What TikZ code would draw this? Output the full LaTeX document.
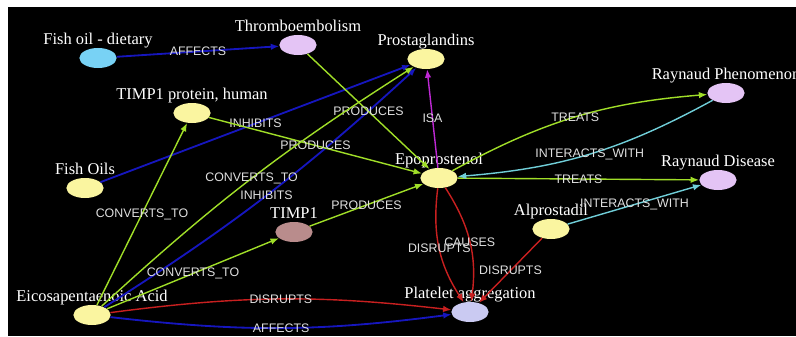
\documentclass[tikz,border=0pt]{standalone}
\usepackage{fontspec}
\setmainfont{Liberation Serif}
\newfontfamily\relfamily{Liberation Sans}
\usetikzlibrary{shapes.geometric, arrows.meta}

\definecolor{eBlue}{RGB}{22,22,190}
\definecolor{eGreen}{RGB}{160,222,40}
\definecolor{eRed}{RGB}{200,32,32}
\definecolor{eMag}{RGB}{190,40,212}
\definecolor{eCyan}{RGB}{112,206,216}
\definecolor{nYellow}{RGB}{250,245,160}
\definecolor{nViolet}{RGB}{228,196,245}
\definecolor{nSky}{RGB}{120,210,245}
\definecolor{nRose}{RGB}{185,140,140}
\definecolor{nLav}{RGB}{202,202,242}

\newcommand{\nodefont}{\fontsize{11.7}{13}\selectfont}
\newcommand{\relfont}{\relfamily\fontsize{8.8}{10}\selectfont}

\tikzset{
	ent/.style={ellipse, minimum width=0.93cm, minimum height=0.5cm, inner sep=0pt, label distance=1.6pt},
	lbl/.style={text=white, font=\nodefont, inner sep=0pt, text depth=0.22em},
	rel/.style={-{Latex[length=6pt,width=4.6pt]}, line width=1pt},
	rtxt/.style={font=\relfont, text=white!88!black, inner sep=1pt, midway}
}

\begin{document}
\begin{tikzpicture}[x=0.025cm, y=-0.025cm]
	%frame
	\fill[white] (0,0) rectangle (796,336);
	\fill[black] (8,7) rectangle (796,336);
	\useasboundingbox (0,0) rectangle (796,336);
	
	%top row - nodes
	\node[ent, fill=nSky,    label={[lbl]above:Fish oil - dietary}] (fod)   at (98,58)  {};
	\node[ent, fill=nViolet, label={[lbl]above:Thromboembolism}]    (throm) at (298,45) {};
	\node[ent, fill=nYellow, label={[lbl]above:Prostaglandins}]     (prost) at (426,59) {};
	\node[ent, fill=nYellow, label={[lbl]above:{TIMP1 protein, human}}] (timph) at (192,113) {};
	\node[ent, fill=nViolet, label={[lbl]above:Raynaud Phenomenon}] (rp)    at (726,93) {};
	
	%middle row - nodes
	\node[ent, fill=nYellow, label={[lbl]above:Fish Oils}]          (oils)  at (85,188)  {};
	\node[ent, fill=nYellow, label={[lbl]above:Epoprostenol}]       (epo)   at (439,178) {};
	\node[ent, fill=nViolet, label={[lbl]above:Raynaud Disease}]    (rd)    at (718,180) {};
	\node[ent, fill=nRose,   label={[lbl]above:TIMP1}]              (timp)  at (294,232) {};
	\node[ent, fill=nYellow, label={[lbl]above:Alprostadil}]        (alp)   at (551,229) {};
	
	%bottom row - nodes
	\node[ent, fill=nYellow, label={[lbl]above:Eicosapentaenoic Acid}] (epa) at (92,315) {};
	\node[ent, fill=nLav,    label={[lbl]above:Platelet aggregation}]  (plt) at (470,312) {};
	
		%blue - affects / inhibits
		\draw[rel, eBlue, line width=1.3pt] (fod) -- node[rtxt] {AFFECTS} (throm);
		\draw[rel, eBlue, line width=1.3pt] (oils) -- node[rtxt] {INHIBITS} (prost);
		\draw[rel, eBlue, line width=1.3pt] (epa) to[bend right=5] node[rtxt] {INHIBITS} (prost);
		\draw[rel, eBlue, line width=1.3pt] (epa) to[bend right=7] node[rtxt] {AFFECTS} (plt);
		
		%green - produces / converts / treats
		\draw[rel, eGreen] (throm) -- node[rtxt] {PRODUCES} (epo);
		\draw[rel, eGreen] (timph) -- node[rtxt] {PRODUCES} (epo);
		\draw[rel, eGreen] (timp) -- node[rtxt] {PRODUCES} (epo);
		\draw[rel, eGreen] (epa) -- node[rtxt] {CONVERTS\_TO} (timph);
		\draw[rel, eGreen] (epa) to[bend left=5] node[rtxt] {CONVERTS\_TO} (prost);
		\draw[rel, eGreen] (epa) -- node[rtxt] {CONVERTS\_TO} (timp);
		\draw[rel, eGreen] (epo) to[bend left=12] node[rtxt] {TREATS} (rp);
		\draw[rel, eGreen] (epo) -- node[rtxt] {TREATS} (rd);
		
		%cyan / magenta
		\draw[rel, eCyan] (rp) to[bend left=12] node[rtxt] {INTERACTS\_WITH} (epo);
		\draw[rel, eCyan] (alp) -- node[rtxt] {INTERACTS\_WITH} (rd);
		\draw[rel, eMag] (epo) -- node[rtxt] {ISA} (prost);
		
		%red - disrupts / causes
		\draw[rel, eRed] (epa) to[bend left=7] node[rtxt] {DISRUPTS} (plt);
		\draw[rel, eRed] (epo) to[bend right=20] node[rtxt] {DISRUPTS} (plt);
		\draw[rel, eRed] (epo) to[bend left=20] node[rtxt] {CAUSES} (plt);
		\draw[rel, eRed] (alp) -- node[rtxt] {DISRUPTS} (plt);
\end{tikzpicture}
\end{document}
